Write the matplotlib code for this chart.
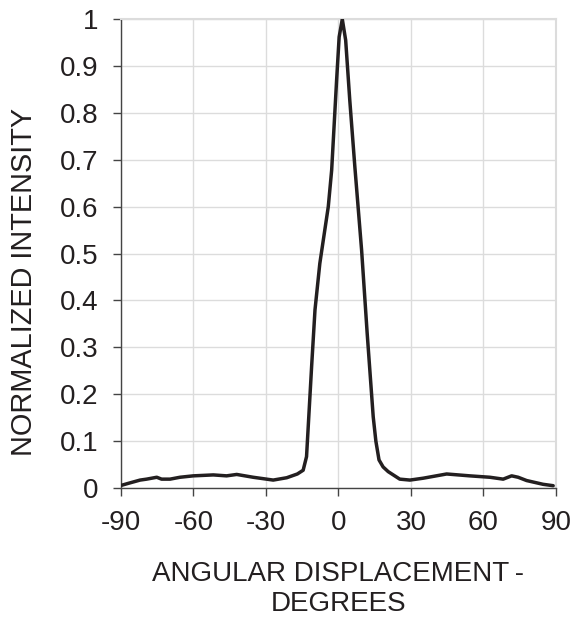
import matplotlib.pyplot as plt
import numpy as np

# angle (deg) vs normalized intensity
angle = [-89.7, -86.3, -82.1, -79.4, -75.2, -73.2, -69.7, -65.6, -60.1, -51.8,
         -46.3, -42.1, -35.3, -27.0, -21.4, -17.0, -14.6, -13.2, -11.1, -9.7,
         -7.7, -4.2, -2.8, -0.75, 0.3, 1.6, 3.0, 4.7, 6.8, 9.6,
         11.9, 14.4, 15.5, 16.8, 18.5, 20.6, 22.7, 25.4, 29.6, 35.1,
         44.8, 54.4, 62.7, 68.2, 71.7, 74.4, 77.9, 84.7, 88.9]
intensity = [0.006, 0.011, 0.017, 0.019, 0.023, 0.019, 0.019, 0.023, 0.026, 0.028,
             0.026, 0.029, 0.023, 0.017, 0.022, 0.030, 0.038, 0.067, 0.259, 0.38,
             0.479, 0.60, 0.678, 0.87, 0.962, 1.0, 0.955, 0.827, 0.685, 0.507,
             0.33, 0.152, 0.10, 0.06, 0.045, 0.035, 0.028, 0.019, 0.017, 0.021,
             0.030, 0.026, 0.023, 0.019, 0.026, 0.023, 0.016, 0.008, 0.005]

xticks = [-90, -60, -30, 0, 30, 60, 90]
yticks = [0, 0.1, 0.2, 0.3, 0.4, 0.5, 0.6, 0.7, 0.8, 0.9, 1]
ytick_labels = ['0', '0.1', '0.2', '0.3', '0.4', '0.5', '0.6', '0.7', '0.8', '0.9', '1']

plt.rcParams['font.family'] = ['Liberation Sans', 'DejaVu Sans']

fig = plt.figure(figsize=(5.79, 6.17), dpi=100)
ax = fig.add_axes([0.209, 0.209, 0.751, 0.760])

ax.plot(angle, intensity, color='#231f20', linewidth=2.5,
        solid_joinstyle='round', solid_capstyle='round', zorder=3)

ax.set_xlim(-90, 90)
ax.set_ylim(0, 1)
ax.set_xticks(xticks)
ax.set_xticklabels([str(t) for t in xticks])
ax.set_yticks(yticks)
ax.set_yticklabels(ytick_labels)

ax.grid(True, color='#dcdcdc', linewidth=1.0)
ax.set_axisbelow(True)
for s in ['top', 'right']:
    ax.spines[s].set_color('#dcdcdc')
    ax.spines[s].set_linewidth(1.5)
for s in ['left', 'bottom']:
    ax.spines[s].set_color('#444444')
    ax.spines[s].set_linewidth(1.0)

ax.tick_params(axis='both', direction='out', length=6, width=1.0,
               color='#444444', labelsize=20, pad=10, labelcolor='#231f20')

ax.set_xlabel('ANGULAR DISPLACEMENT\u2009-\nDEGREES', fontsize=20,
              color='#231f20', labelpad=18, linespacing=1.2)
ax.set_ylabel('NORMALIZED INTENSITY', fontsize=20.8, color='#231f20')
ax.yaxis.set_label_coords(-0.19, 0.44)

fig.savefig('out.png', dpi=100)
